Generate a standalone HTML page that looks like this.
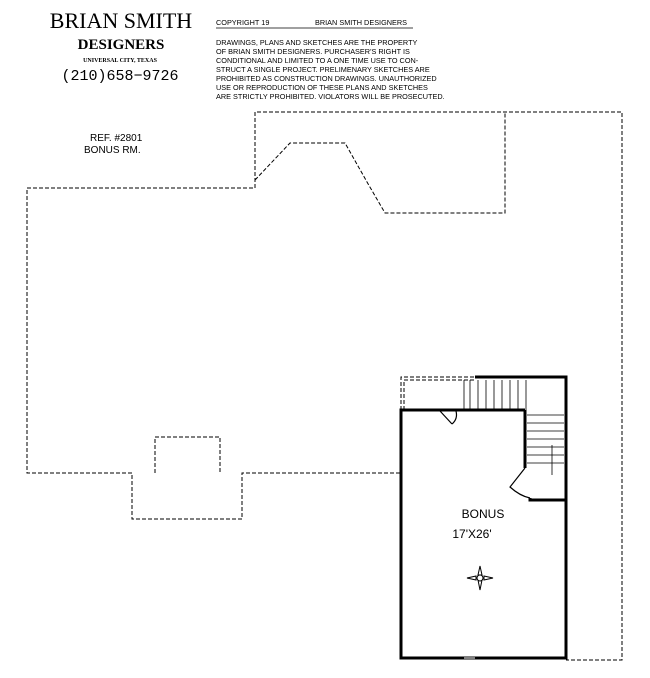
<!DOCTYPE html>
<html><head><style>body{margin:0;background:#fff}svg{display:block}</style></head><body>
<svg width="650" height="678" viewBox="0 0 650 678" xmlns="http://www.w3.org/2000/svg" font-family="Liberation Sans, sans-serif">
<text x="121" y="28" font-family="Liberation Serif, serif" font-size="22" text-anchor="middle">BRIAN  SMITH</text>
<text x="121" y="49" font-family="Liberation Serif, serif" font-size="15" font-weight="bold" text-anchor="middle">DESIGNERS</text>
<text x="120" y="62" font-family="Liberation Serif, serif" font-size="6" font-weight="bold" text-anchor="middle">UNIVERSAL CITY, TEXAS</text>
<text x="120" y="80" font-family="Liberation Mono, monospace" font-size="15" text-anchor="middle">(210)658−9726</text>
<g font-size="7.3">
<text x="216" y="25">COPYRIGHT 19</text><text x="315" y="25">BRIAN  SMITH DESIGNERS</text>
<line x1="216" y1="28" x2="413" y2="28" stroke="#000" stroke-width="0.8"/>
<text x="216" y="45">DRAWINGS, PLANS AND SKETCHES ARE THE PROPERTY</text>
<text x="216" y="54">OF BRIAN SMITH DESIGNERS.  PURCHASER'S RIGHT IS</text>
<text x="216" y="63">CONDITIONAL AND LIMITED TO A ONE TIME USE TO CON-</text>
<text x="216" y="72">STRUCT A SINGLE PROJECT.  PRELIMENARY SKETCHES ARE</text>
<text x="216" y="81">PROHIBITED AS CONSTRUCTION DRAWINGS.  UNAUTHORIZED</text>
<text x="216" y="90">USE OR REPRODUCTION OF THESE PLANS AND SKETCHES</text>
<text x="216" y="99">ARE STRICTLY PROHIBITED.  VIOLATORS WILL BE PROSECUTED.</text>
</g>
<text x="90" y="141" font-size="10">REF. #2801</text>
<text x="84" y="153" font-size="10">BONUS RM.</text>
<g fill="none" stroke="#000" stroke-width="1" stroke-dasharray="4,2">
<polyline points="400,473 242,473 242,519 132,519 132,473 27,473 27,188 255,188 255,112 622,112 622,660 566,660"/>
<polyline points="155,473 155,437 220,437 220,473"/>
<polyline points="255,180 290,143 345,143 367,182 385,213 505,213 505,112"/>
<polyline points="401,410 401,377 475,377"/>
<polyline points="404,410 404,380 475,380"/>
</g>
<g stroke="#000" stroke-width="0.8" fill="none">
<path d="M464,380V410M470,380V410M478,380V410M486,380V410M494,380V410M502,380V410M510,380V410M518,380V410M526,380V410"/>
<path d="M527,415H564M527,423H564M527,431H564M527,439H564M527,447H564M527,455H564M527,463H564"/>
<path d="M552,445V475"/>
</g>
<g stroke="#000" stroke-width="3" fill="none">
<polyline points="525,410 401,410 401,658 566,658 566,377 475,377"/>
<polyline points="525,410 525,468"/>
<polyline points="530,498 530,500 566,500"/>
</g>
<g stroke="#000" stroke-width="1.2" fill="none">
<path d="M440,411 L452,424 M452,424 Q458,419 456,411"/>
<path d="M525,468 L510,487 Q520,496 530,498"/>
</g>
<line x1="464" y1="658" x2="475" y2="658" stroke="#fff" stroke-width="1"/>
<text x="483" y="518" font-size="12" text-anchor="middle">BONUS</text>
<text x="472" y="538" font-size="12" text-anchor="middle">17'X26'</text>
<g stroke="#000" stroke-width="1" fill="#fff">
<path d="M480,566 L478,575 L482,575 Z M480,590 L478,580 L482,580 Z M467,578 L476,576 L476,580 Z M493,578 L484,576 L484,580 Z"/>
<circle cx="480" cy="578" r="3"/>
</g>
</svg>
</body></html>
